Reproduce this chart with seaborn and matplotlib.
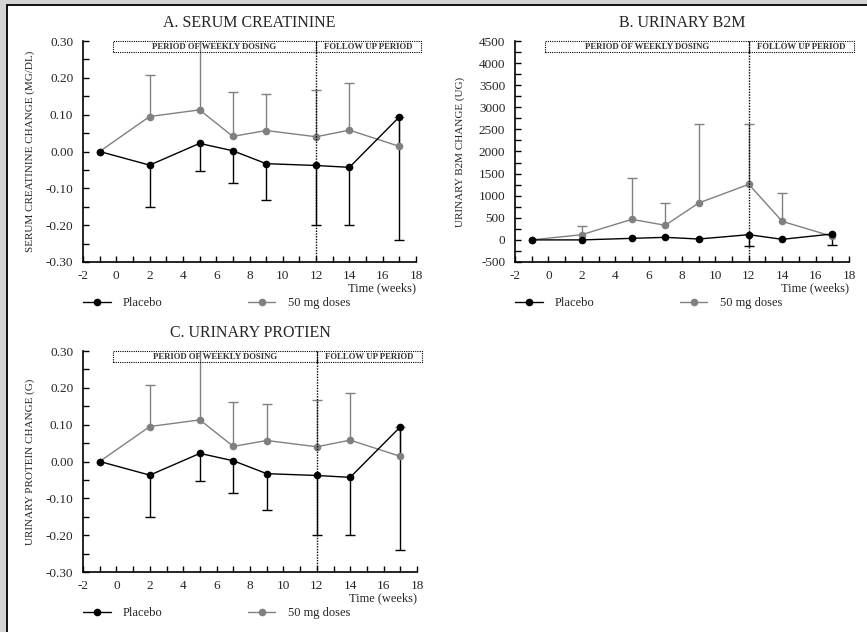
import matplotlib
matplotlib.use("Agg")
import pandas as pd
import matplotlib.pyplot as plt
import matplotlib.ticker as mticker
from matplotlib.patches import Rectangle
from matplotlib.lines import Line2D
import seaborn as sns

# Data
weeks = [-1, 2, 5, 7, 9, 12, 14, 17]
groups = ["Placebo", "50 mg doses"]

# A. serum creatinine (mg/dl)
creat_placebo = [0.0, -0.037, 0.022, 0.002, -0.033, -0.038, -0.043, 0.094]
creat_placebo_low = [0.0, -0.150, -0.053, -0.085, -0.133, -0.199, -0.200, -0.239]
creat_dose = [0.0, 0.095, 0.113, 0.041, 0.057, 0.040, 0.058, 0.014]
creat_dose_high = [0.0, 0.209, 0.330, 0.162, 0.157, 0.168, 0.185, 0.094]

# B. urinary B2M (ug)
b2m_placebo = [0, 0, 35, 58, 20, 118, 13, 134]
b2m_placebo_low = [0, 0, 35, 58, 20, -138, 13, -123]
b2m_dose = [0, 118, 466, 330, 835, 1257, 420, 80]
b2m_dose_high = [0, 307, 1408, 842, 2615, 2615, 1061, 80]

# C. urinary protein (g)
prot_placebo = [0.0, -0.037, 0.022, 0.002, -0.033, -0.038, -0.043, 0.094]
prot_placebo_low = [0.0, -0.150, -0.053, -0.085, -0.133, -0.199, -0.200, -0.239]
prot_dose = [0.0, 0.095, 0.113, 0.041, 0.057, 0.040, 0.058, 0.014]
prot_dose_high = [0.0, 0.209, 0.330, 0.162, 0.157, 0.168, 0.185, 0.094]

sns.set_style("ticks")
plt.rcParams['font.family'] = ['Liberation Serif', 'DejaVu Serif']
plt.rcParams['axes.unicode_minus'] = False

colors = {"Placebo": "#000000", "50 mg doses": "#808080"}


def draw_bars(ax, x, y, end, color):
    # one-sided error bar: stem + cap, only where there is an error
    xs = [a for a, b, c in zip(x, y, end) if b != c]
    ys = [b for a, b, c in zip(x, y, end) if b != c]
    es = [c for a, b, c in zip(x, y, end) if b != c]
    ax.vlines(xs, ys, es, color=color, lw=1.0, zorder=1.5)
    ax.plot(xs, es, ls='none', marker='_', ms=7, mew=1.0, color=color, zorder=1.5)


def draw_panel(ax, title, ylabel, placebo, placebo_low, dose, dose_high,
               ylim, major, minor, fmt, label_x):
    df = pd.DataFrame({
        "week": weeks + weeks,
        "value": placebo + dose,
        "group": [groups[0]] * len(weeks) + [groups[1]] * len(weeks),
    })
    draw_bars(ax, weeks, dose, dose_high, colors[groups[1]])
    draw_bars(ax, weeks, placebo, placebo_low, colors[groups[0]])
    sns.lineplot(data=df, x="week", y="value", hue="group", palette=colors,
                 hue_order=[groups[1], groups[0]],
                 marker="o", markersize=5.5, markeredgewidth=0, linewidth=1.0,
                 errorbar=None, legend=False, ax=ax, zorder=2)

    ax.set_xlim(-2, 18)
    ax.set_ylim(*ylim)
    ax.xaxis.set_major_locator(mticker.MultipleLocator(2))
    ax.xaxis.set_minor_locator(mticker.MultipleLocator(1))
    ax.yaxis.set_major_locator(mticker.MultipleLocator(major))
    ax.yaxis.set_minor_locator(mticker.MultipleLocator(minor))
    ax.yaxis.set_major_formatter(mticker.FormatStrFormatter(fmt))
    ax.tick_params(which='both', direction='in', length=4, width=1, labelsize=9.5,
                   color='black')
    ax.tick_params(axis='y', pad=7)
    ax.tick_params(axis='x', pad=6)
    sns.despine(ax=ax)
    for s in ['left', 'bottom']:
        ax.spines[s].set_linewidth(1.2)
        ax.spines[s].set_color('black')

    ax.set_title(title, fontsize=11.5, pad=10)
    ax.set_ylabel(ylabel, fontsize=8)
    ax.yaxis.set_label_coords(label_x, 0.5)
    ax.set_xlabel("Time (weeks)", fontsize=9, loc='right')
    ax.xaxis.set_label_coords(1.0, -0.09)

    # dosing / follow-up boxes
    span = ylim[1] - ylim[0]
    h = span * 0.05
    y0 = ylim[1] - h
    for x0, x1, txt in [(-0.2, 12, "PERIOD OF WEEKLY DOSING"),
                        (12, 18.3, "FOLLOW UP PERIOD")]:
        ax.add_patch(Rectangle((x0, y0), x1 - x0, h, fill=False, ls=(0, (1, 1)),
                               lw=0.8, edgecolor='black', clip_on=False, zorder=3))
        ax.text((x0 + x1) / 2, y0 + h / 2, txt, ha='center', va='center',
                fontsize=6.3, fontweight='bold', color='#333333', zorder=3)
    ax.axvline(12, color='black', ls=(0, (1, 1)), lw=1.0, zorder=3)

    handles = [Line2D([], [], color=colors[g], marker='o', markersize=5.5,
                      markeredgewidth=0, lw=1.0) for g in groups]
    ax.legend(handles, groups, loc='center left', bbox_to_anchor=(0.0, -0.186),
              ncol=2, frameon=False, fontsize=9, handlelength=2.2,
              handletextpad=1.0, columnspacing=6.8, borderpad=0, borderaxespad=0)


fig = plt.figure(figsize=(8.67, 6.32), dpi=100, facecolor='#d4d4d4')
fig.patches.append(Rectangle((7 / 867, -0.1), 1.2, 1 - 5 / 632 + 0.1,
                             transform=fig.transFigure, facecolor='white',
                             edgecolor='black', lw=1.3, zorder=-10))

ax_a = fig.add_axes([83 / 867, 1 - 262 / 632, 333 / 867, 221 / 632])
ax_b = fig.add_axes([515 / 867, 1 - 262 / 632, 334 / 867, 221 / 632])
ax_c = fig.add_axes([83 / 867, 1 - 572 / 632, 334 / 867, 221 / 632])
for ax in [ax_a, ax_b, ax_c]:
    ax.set_facecolor('none')

draw_panel(ax_a, "A. SERUM CREATININE", "SERUM CREATININE CHANGE (MG/DL)",
           creat_placebo, creat_placebo_low, creat_dose, creat_dose_high,
           (-0.30, 0.30), 0.10, 0.05, '%.2f', -0.144)
draw_panel(ax_b, "B. URINARY B2M", "URINARY B2M CHANGE (UG)",
           b2m_placebo, b2m_placebo_low, b2m_dose, b2m_dose_high,
           (-500, 4500), 500, 250, '%d', -0.15)
draw_panel(ax_c, "C. URINARY PROTIEN", "URINARY PROTEIN CHANGE (G)",
           prot_placebo, prot_placebo_low, prot_dose, prot_dose_high,
           (-0.30, 0.30), 0.10, 0.05, '%.2f', -0.144)

fig.savefig("out.png", dpi=100, facecolor=fig.get_facecolor())
